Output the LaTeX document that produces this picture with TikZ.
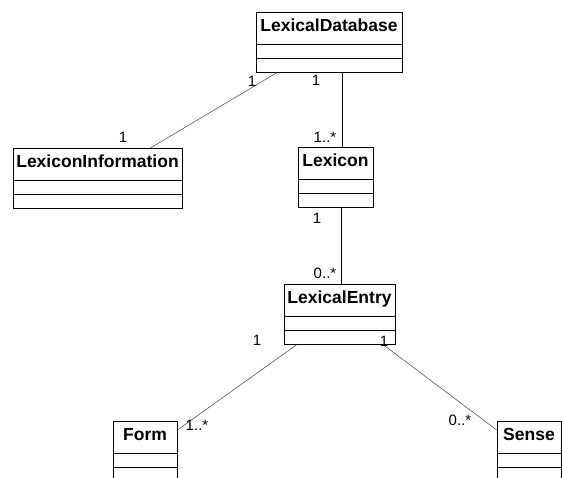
\documentclass[tikz,border=0pt]{standalone}
\usepackage{fontspec}
\setmainfont{Liberation Sans}

\begin{document}
\begin{tikzpicture}[x=1pt, y=-1pt,
  umlclass/.style={draw, line width=.8pt, anchor=north, inner sep=0pt,
    minimum height=60pt, text height=19.5pt, text depth=40.5pt,
    font=\fontsize{17.5}{19}\bfseries,
    path picture={
      \draw[line width=.8pt] ([yshift=-32pt]path picture bounding box.north west) -- ([yshift=-32pt]path picture bounding box.north east);
      \draw[line width=.8pt] ([yshift=-46pt]path picture bounding box.north west) -- ([yshift=-46pt]path picture bounding box.north east);
    }},
  assoc/.style={black!65, line width=.6pt},
  mult/.style={font=\fontsize{15}{17}\selectfont, inner sep=0pt}]
\useasboundingbox (0,0) rectangle (562,478);
\clip (0,0) rectangle (562,478);
% classes
\node[umlclass, minimum width=146pt] (db) at (329,12) {LexicalDatabase};
\node[umlclass, minimum width=169pt] (info) at (97.5,148) {LexiconInformation};
\node[umlclass, minimum width=75pt] (lexicon) at (335.5,147) {Lexicon};
\node[umlclass, minimum width=111pt] (entry) at (339.5,284) {LexicalEntry};
\node[umlclass, minimum width=64pt] (form) at (145,421) {Form};
\node[umlclass, minimum width=64pt] (sense) at (529,421) {Sense};
% associations
\draw[assoc] ([xshift=21pt]db.south west) -- ([xshift=-32pt]info.north east);
\draw[assoc, black] ([xshift=13pt]db.south) -- ([xshift=13pt]db.south |- lexicon.north);
\draw[assoc, black] ([xshift=6pt]lexicon.south) -- ([xshift=6pt]lexicon.south |- entry.north);
\draw[assoc] ([xshift=13pt]entry.south west) -- ([yshift=-9pt]form.north east);
\draw[assoc] ([xshift=-12pt]entry.south east) -- ([yshift=-9pt]sense.north west);
% multiplicities
\node[mult] (m1) at (252,81) {1};
\node[mult] (m2) at (316,80) {1};
\node[mult] (m3) at (123,137) {1};
\node[mult] (m4) at (325,137) {1..*};
\node[mult] (m5) at (317,218) {1};
\node[mult] (m6) at (325,273) {0..*};
\node[mult] (m7) at (257,340) {1};
\node[mult] (m8) at (384,341) {1};
\node[mult] (m9) at (197,425) {1..*};
\node[mult] (m10) at (460,420) {0..*};
\end{tikzpicture}
\end{document}
